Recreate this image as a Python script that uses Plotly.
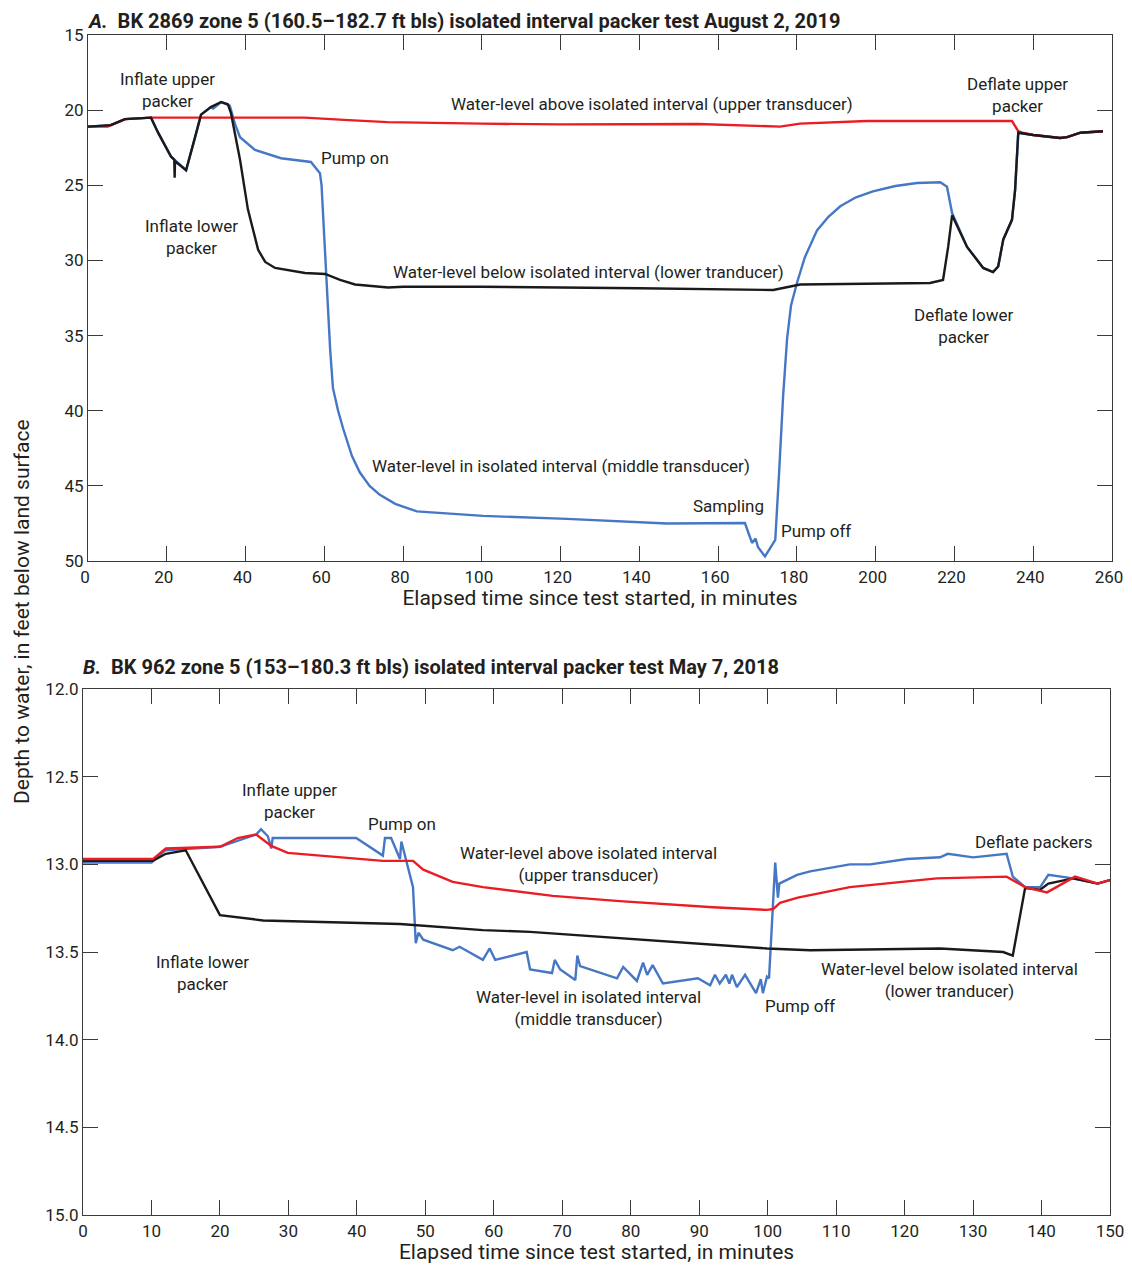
import plotly.graph_objects as go

# ---------------- Panel A data ----------------
a_upper_t = [0, 5, 5.8, 9.4, 16, 30, 55, 65, 76, 100, 120, 155, 175.7, 180.8, 197.8, 234.6, 236.2, 237.2, 240, 246.8, 248.6, 252, 257.7]
a_upper_y = [21.1, 21.1, 21.0, 20.6, 20.5, 20.5, 20.5, 20.65, 20.8, 20.9, 20.95, 20.92, 21.1, 20.9, 20.72, 20.72, 21.4, 21.5, 21.65, 21.85, 21.8, 21.5, 21.4]

a_middle_t = [0, 5.8, 9.4, 16, 17.8, 21.1, 24.9, 27.2, 28.7, 31.2, 31.8, 33.8, 36, 37.3, 38.6, 42.4, 49, 56.6, 58.9, 59.3, 60.5, 61.5, 62.2, 63.5, 64.8, 67, 69, 71.5, 74.1, 78, 83.5, 100.3, 121.6, 147, 166.8, 168.6, 169.5, 170.1, 171.9, 174, 174.5, 175.5, 176.5, 177.5, 178.5, 180, 182, 185.1, 188, 191, 195, 199.3, 205, 210.5, 216.4, 218.1, 219.4, 223.2, 227.3, 229.8, 231.1, 232.4, 234.6, 235.4, 236.2, 240, 246.8, 248.6, 252, 257.7]
a_middle_y = [21.1, 21.0, 20.6, 20.5, 21.5, 23.1, 24.0, 21.8, 20.3, 19.8, 19.9, 19.46, 19.7, 20.9, 21.8, 22.65, 23.2, 23.45, 24.2, 25.0, 31.0, 36.0, 38.5, 40.0, 41.2, 43.0, 44.1, 45.0, 45.6, 46.2, 46.7, 47.0, 47.2, 47.5, 47.47, 48.8, 48.5, 49.07, 49.7, 48.8, 48.6, 44.0, 39.0, 35.2, 33.0, 31.5, 29.8, 28.0, 27.1, 26.4, 25.8, 25.4, 25.05, 24.85, 24.8, 25.1, 26.85, 29.1, 30.5, 30.77, 30.4, 28.6, 27.3, 25.3, 21.5, 21.65, 21.85, 21.8, 21.5, 21.4]

a_lower_t = [0, 5.8, 9.4, 16, 17.8, 21.1, 21.9, 22.0, 22.1, 24.9, 27.2, 28.7, 31.2, 33.8, 35.5, 36.3, 38.6, 40.6, 43.2, 45, 47.5, 55.1, 60.2, 64, 67.8, 76.2, 80, 100, 140, 155.4, 174, 180.8, 213.8, 217.1, 218.4, 219.4, 223.2, 227.3, 229.8, 231.1, 232.4, 234.6, 235.4, 236.2, 240, 246.8, 248.6, 252, 257.7]
a_lower_y = [21.1, 21.0, 20.6, 20.5, 21.5, 23.1, 23.3, 24.5, 23.4, 24.0, 21.8, 20.3, 19.8, 19.46, 19.6, 20.2, 23.3, 26.6, 29.3, 30.1, 30.5, 30.84, 30.9, 31.3, 31.6, 31.8, 31.75, 31.75, 31.85, 31.9, 31.97, 31.6, 31.5, 31.3, 29.1, 27.0, 29.1, 30.5, 30.77, 30.4, 28.6, 27.3, 25.3, 21.5, 21.65, 21.85, 21.8, 21.5, 21.4]

# ---------------- Panel B data ----------------
b_upper_t = [0, 10.2, 12.1, 20, 22.6, 25.3, 27.5, 29.9, 43.8, 48.2, 49.7, 54, 58.4, 68.6, 78.4, 92, 99.9, 100.8, 101.8, 104.4, 112, 124.7, 134.9, 137.6, 140.8, 144.9, 148.2, 150]
b_upper_y = [12.97, 12.97, 12.91, 12.90, 12.85, 12.83, 12.895, 12.935, 12.98, 12.98, 13.03, 13.10, 13.13, 13.18, 13.21, 13.245, 13.26, 13.255, 13.22, 13.19, 13.13, 13.08, 13.07, 13.13, 13.16, 13.07, 13.11, 13.09]

b_middle_t = [0, 10, 12, 20, 25.3, 26, 27, 27.5, 27.7, 39.9, 43.8, 44.1, 45, 46.3, 46.5, 48.2, 48.6, 49, 49.7, 54, 55, 58.4, 59.4, 60.2, 64.8, 65.3, 68.5, 68.9, 69.7, 71.9, 72.2, 72.6, 78, 78.9, 80.9, 81.8, 82.4, 83.2, 84.7, 89.8, 91.6, 92.3, 93, 93.9, 94.4, 94.8, 95.5, 96.7, 98.3, 99, 99.3, 99.9, 100.2, 101.1, 101.5, 101.7, 104.3, 106.2, 112, 115, 120.3, 125.2, 126.3, 130, 134.9, 135.8, 137.6, 139.8, 141, 144.6, 148.2, 150]
b_middle_y = [12.99, 12.99, 12.92, 12.9, 12.83, 12.80, 12.84, 12.91, 12.85, 12.85, 12.95, 12.85, 12.85, 12.97, 12.87, 13.13, 13.45, 13.39, 13.43, 13.49, 13.47, 13.545, 13.48, 13.545, 13.5, 13.6, 13.62, 13.545, 13.6, 13.66, 13.52, 13.58, 13.65, 13.585, 13.665, 13.56, 13.63, 13.575, 13.68, 13.65, 13.69, 13.63, 13.68, 13.63, 13.68, 13.63, 13.7, 13.63, 13.735, 13.655, 13.735, 13.64, 13.65, 12.99, 13.19, 13.11, 13.06, 13.04, 13.0, 13.0, 12.97, 12.96, 12.94, 12.96, 12.94, 13.07, 13.13, 13.13, 13.06, 13.08, 13.11, 13.09]

b_lower_t = [0, 10.2, 12.1, 15, 20, 26.3, 46.3, 53.6, 58.4, 65.3, 78.4, 92, 99.9, 106.2, 125.2, 134.4, 135.8, 137.6, 139.8, 141, 144.6, 148.2, 150]
b_lower_y = [12.98, 12.98, 12.94, 12.92, 13.29, 13.32, 13.34, 13.36, 13.375, 13.385, 13.42, 13.46, 13.48, 13.49, 13.48, 13.5, 13.52, 13.135, 13.145, 13.11, 13.08, 13.11, 13.09]

a_x_ticks = list(range(0, 261, 20))
a_y_ticks = list(range(15, 51, 5))
b_x_ticks = list(range(0, 151, 10))
b_y_ticks = [12.0, 12.5, 13.0, 13.5, 14.0, 14.5, 15.0]

RED = "#ec1c24"
BLUE = "#4677c4"
BLACK = "#1a1a1a"
FONT = "Liberation Sans Narrow, Roboto, Arial, sans-serif"
TXT = "#231f20"

# page body has an 8px margin; lay out figure in page pixel coordinates
OFF = 8
W, H = 1132 - OFF, 1274 - 2 * OFF


def px(xp):
    return (xp - OFF) / W


def py(yp):
    return 1 - (yp - OFF) / H


fig = go.Figure()


def add(t, y, color, xa, ya):
    fig.add_trace(go.Scatter(x=t, y=y, mode="lines", line=dict(color=color, width=2.4),
                             xaxis=xa, yaxis=ya, showlegend=False, hoverinfo="skip"))


add(a_middle_t, a_middle_y, BLUE, "x", "y")
add(a_upper_t, a_upper_y, RED, "x", "y")
add(a_lower_t, a_lower_y, BLACK, "x", "y")
add(b_middle_t, b_middle_y, BLUE, "x2", "y2")
add(b_lower_t, b_lower_y, BLACK, "x2", "y2")
add(b_upper_t, b_upper_y, RED, "x2", "y2")

axis_common = dict(showline=True, linecolor="#3a3a3a", linewidth=1.2, mirror="ticks",
                   ticks="inside", ticklen=15, tickcolor="#3a3a3a", tickwidth=1.2,
                   showgrid=False, zeroline=False, automargin=False,
                   ticklabeloverflow="allow",
                   tickfont=dict(family=FONT, size=17, color=TXT))
xtitle = dict(text="Elapsed time since test started, in minutes",
              font=dict(family=FONT, size=21, color=TXT), standoff=4)

fig.update_layout(
    width=W, height=H, margin=dict(l=0, r=0, t=0, b=0, autoexpand=False),
    paper_bgcolor="white", plot_bgcolor="white",
    xaxis=dict(domain=[px(88), px(1112)], range=[0, 260], tickvals=a_x_ticks,
               anchor="y", title=xtitle, ticklabelshift=-3, **axis_common),
    yaxis=dict(domain=[py(561), py(35)], range=[50, 15], tickvals=a_y_ticks,
               anchor="x", **axis_common),
    xaxis2=dict(domain=[px(83), px(1110)], range=[0, 150], tickvals=b_x_ticks,
                anchor="y2", title=xtitle, **axis_common),
    yaxis2=dict(domain=[py(1215), py(689)], range=[15, 12], tickvals=b_y_ticks,
                tickformat=".1f", anchor="x2", **axis_common),
)

ann_font = dict(family=FONT, size=17, color=TXT)

a_notes = [
    ("Inflate upper<br>packer", 20.3, 18.66),
    ("Inflate lower<br>packer", 26.2, 28.44),
    ("Pump on", 67.8, 23.18),
    ("Water-level above isolated interval (upper transducer)", 143.2, 19.6),
    ("Deflate upper<br>packer", 235.9, 19.0),
    ("Water-level below isolated interval (lower tranducer)", 127.2, 30.77),
    ("Deflate lower<br>packer", 222.2, 34.36),
    ("Water-level in isolated interval (middle transducer)", 120.1, 43.68),
    ("Sampling", 162.5, 46.34),
    ("Pump off", 184.9, 48.0),
]
b_notes = [
    ("Inflate upper<br>packer", 30.1, 12.64),
    ("Pump on", 46.6, 12.77),
    ("Water-level above isolated interval<br>(upper transducer)", 73.8, 13.0),
    ("Deflate packers", 138.9, 12.87),
    ("Inflate lower<br>packer", 17.4, 13.62),
    ("Water-level below isolated interval<br>(lower tranducer)", 126.5, 13.66),
    ("Water-level in isolated interval<br>(middle transducer)", 73.8, 13.82),
    ("Pump off", 104.7, 13.81),
]
for txt, x, y in a_notes:
    fig.add_annotation(text=txt, x=x, y=y, xref="x", yref="y", showarrow=False,
                       font=ann_font, align="center")
for txt, x, y in b_notes:
    fig.add_annotation(text=txt, x=x, y=y, xref="x2", yref="y2", showarrow=False,
                       font=ann_font, align="center")

title_font = dict(family=FONT, size=20, color=TXT)
fig.add_annotation(text="<b><i>A.</i>  BK 2869 zone 5 (160.5–182.7 ft bls) isolated interval packer test August 2, 2019</b>",
                   x=px(86), y=1.0, xref="paper", yref="paper", xanchor="left",
                   yanchor="top", showarrow=False, font=title_font, borderpad=0)
fig.add_annotation(text="<b><i>B.</i>  BK 962 zone 5 (153–180.3 ft bls) isolated interval packer test May 7, 2018</b>",
                   x=px(81), y=py(667), xref="paper", yref="paper", xanchor="left",
                   yanchor="middle", showarrow=False, font=title_font)
fig.add_annotation(text="Depth to water, in feet below land surface",
                   x=px(22), y=py(612), xref="paper", yref="paper", textangle=-90,
                   xanchor="center", yanchor="middle", showarrow=False,
                   font=dict(family=FONT, size=21, color=TXT))

fig.write_html("out.html")
